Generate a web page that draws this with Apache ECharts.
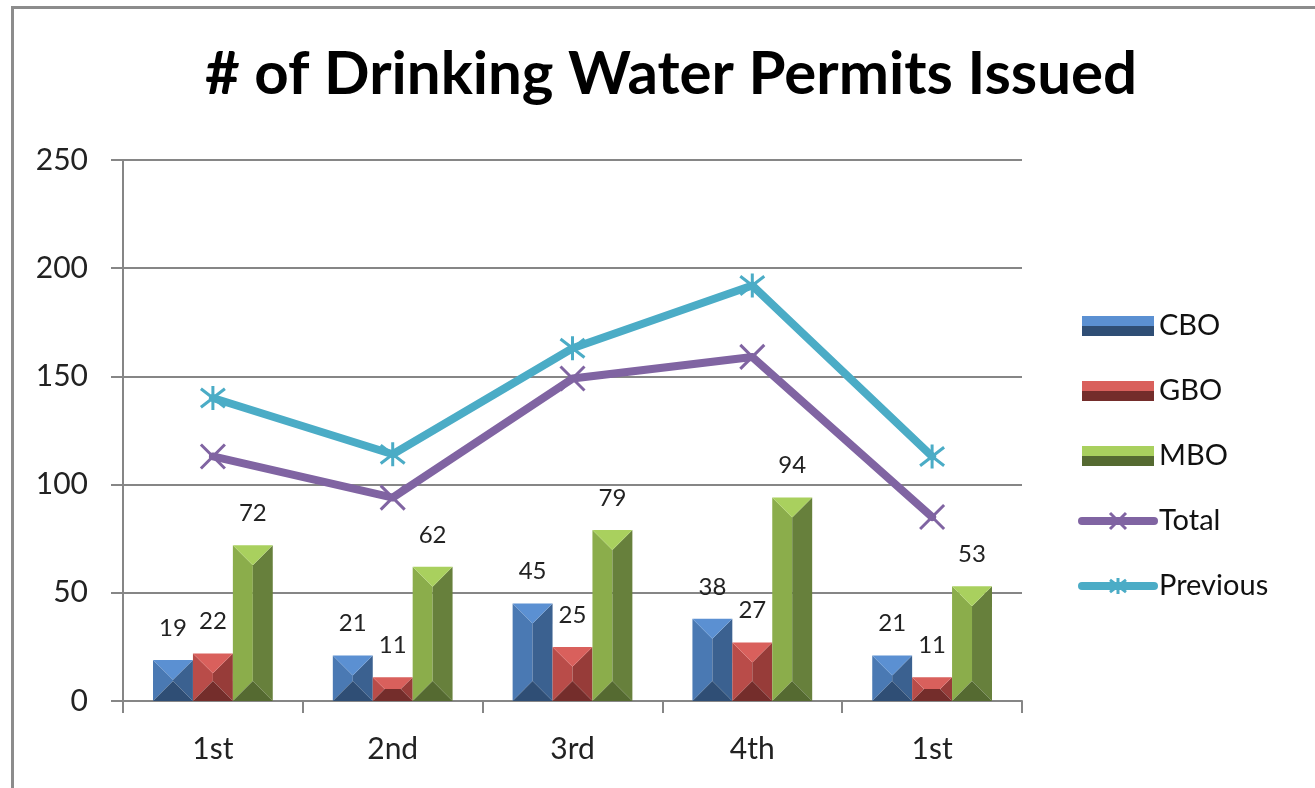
<!DOCTYPE html>
<html>
<head>
<meta charset="utf-8">
<script src="https://cdn.jsdelivr.net/npm/echarts@6/dist/echarts.min.js"></script>
<style>
  html, body { margin: 0; padding: 0; background: #fff; }
  #chart { width: 1315px; height: 788px; }
</style>
</head>
<body>
<div id="chart"></div>
<script>
// data
const quarters = ['1st', '2nd', '3rd', '4th', '1st'];
const cbo = [19, 21, 45, 38, 21];
const gbo = [22, 11, 25, 27, 11];
const mbo = [72, 62, 79, 94, 53];
const total = [113, 94, 149, 159, 85];
const previous = [140, 114, 163, 192, 113];
const yTicks = [0, 50, 100, 150, 200, 250];

const FONT = 'Lato, "Open Sans", sans-serif';

// bevel colours: top, left, right, bottom
const bevel = {
    CBO: ['#5b90d2', '#4a79b3', '#3b6190', '#2f4e75'],
    GBO: ['#d9605c', '#b94c49', '#973c39', '#742d2b'],
    MBO: ['#a9d05e', '#8bad4b', '#67803c', '#556a31']
};
const TOTAL_COLOR = '#8064a2';
const PREV_COLOR = '#4bacc6';

function bevelBar(name, k) {
    const c = bevel[name];
    return (params, api) => {
        const idx = api.value(0);
        const val = api.value(1);
        const base = api.coord([idx, 0]);
        const top = api.coord([idx, val]);
        const band = api.size([1, 0])[0];
        const w = band * 0.222;
        const cx = base[0] + (k - 1) * w;
        const x0 = cx - w / 2, x1 = cx + w / 2;
        const y0 = top[1], y1 = base[1];
        const d = Math.min(w / 2, (y1 - y0) / 2);
        const poly = (pts, fill) => ({ type: 'polygon', shape: { points: pts }, style: { fill: fill } });
        return {
            type: 'group',
            children: [
                poly([[x0, y0], [x0 + d, y0 + d], [x0 + d, y1 - d], [x0, y1]], c[1]),
                poly([[x1, y0], [x1 - d, y0 + d], [x1 - d, y1 - d], [x1, y1]], c[2]),
                poly([[x0 + d, y0 + d], [cx, y0 + d], [cx, y1 - d], [x0 + d, y1 - d]], c[1]),
                poly([[cx, y0 + d], [x1 - d, y0 + d], [x1 - d, y1 - d], [cx, y1 - d]], c[2]),
                poly([[x0, y0], [x1, y0], [x1 - d, y0 + d], [x0 + d, y0 + d]], c[0]),
                poly([[x0, y1], [x1, y1], [x1 - d, y1 - d], [x0 + d, y1 - d]], c[3]),
                {
                    type: 'text',
                    style: {
                        x: cx, y: y0 - 32, text: String(val),
                        align: 'center', verticalAlign: 'middle',
                        font: '24px ' + FONT, fill: '#222'
                    }
                }
            ]
        };
    };
}

function barSeries(name, values, k) {
    return {
        name: name,
        type: 'custom',
        renderItem: bevelBar(name, k),
        itemStyle: { color: bevel[name][1] },
        encode: { x: 0, y: 1 },
        data: values.map((v, i) => [i, v]),
        z: 2
    };
}

function legendBar(name) {
    const c = bevel[name];
    return {
        name: name, icon: 'rect',
        itemStyle: {
            color: {
                type: 'linear', x: 0, y: 0, x2: 0, y2: 1,
                colorStops: [
                    { offset: 0, color: c[0] }, { offset: 0.5, color: c[0] },
                    { offset: 0.5, color: c[3] }, { offset: 1, color: c[3] }
                ]
            }
        }
    };
}

function legendLine(name, color) {
    return {
        name: name,
        lineStyle: { color: color, width: 8, cap: 'round' },
        itemStyle: { color: color, borderColor: color, borderWidth: 3 }
    };
}

const crossPath = 'path://M0 0L10 10M10 0L0 10';
const starPath = 'path://M0 0L10 10M10 0L0 10M5 -1.5L5 11.5';

const chart = echarts.init(document.getElementById('chart'));
chart.setOption({
    animation: false,
    textStyle: { fontFamily: FONT },
    title: {
        text: '# of Drinking Water Permits Issued',
        left: 666, top: 40, textAlign: 'center',
        textStyle: { fontFamily: FONT, fontSize: 60, fontWeight: 'bold', color: '#000' }
    },
    graphic: [{
        type: 'rect', left: 10, top: 5, z: -1,
        shape: { width: 1400, height: 900 },
        style: { fill: 'none', stroke: '#8c8c8c', lineWidth: 3 }
    }],
    legend: {
        orient: 'vertical', left: 1078, top: 311, padding: 0,
        itemWidth: 72, itemHeight: 20, itemGap: 35,
        textStyle: { fontFamily: FONT, fontSize: 29, color: '#111', lineHeight: 30 },
        data: [legendBar('CBO'), legendBar('GBO'), legendBar('MBO'),
               legendLine('Total', TOTAL_COLOR), legendLine('Previous', PREV_COLOR)]
    },
    grid: { left: 123, right: 293, top: 160, bottom: 87 },
    xAxis: {
        type: 'category',
        data: quarters,
        axisLine: { lineStyle: { color: '#868686', width: 2 } },
        axisTick: { show: true, length: 12, lineStyle: { color: '#868686', width: 2 } },
        axisLabel: { fontFamily: FONT, fontSize: 30, color: '#222', margin: 33 }
    },
    yAxis: {
        type: 'value',
        min: yTicks[0], max: yTicks[yTicks.length - 1], interval: 50,
        axisLine: { show: true, lineStyle: { color: '#868686', width: 2 } },
        axisTick: { show: true, length: 12, lineStyle: { color: '#868686', width: 2 } },
        axisLabel: { fontFamily: FONT, fontSize: 30, color: '#222', margin: 35 },
        splitLine: { lineStyle: { color: '#868686', width: 2 } }
    },
    series: [
        barSeries('CBO', cbo, 0),
        barSeries('GBO', gbo, 1),
        barSeries('MBO', mbo, 2),
        {
            name: 'Total', type: 'line', data: total, z: 3,
            symbol: crossPath, symbolSize: 24,
            lineStyle: { color: TOTAL_COLOR, width: 8, cap: 'round', join: 'round' },
            itemStyle: { color: TOTAL_COLOR, borderColor: TOTAL_COLOR, borderWidth: 3 }
        },
        {
            name: 'Previous', type: 'line', data: previous, z: 3,
            symbol: starPath, symbolSize: 24,
            lineStyle: { color: PREV_COLOR, width: 8, cap: 'round', join: 'round' },
            itemStyle: { color: PREV_COLOR, borderColor: PREV_COLOR, borderWidth: 3 }
        }
    ]
});
</script>
</body>
</html>
